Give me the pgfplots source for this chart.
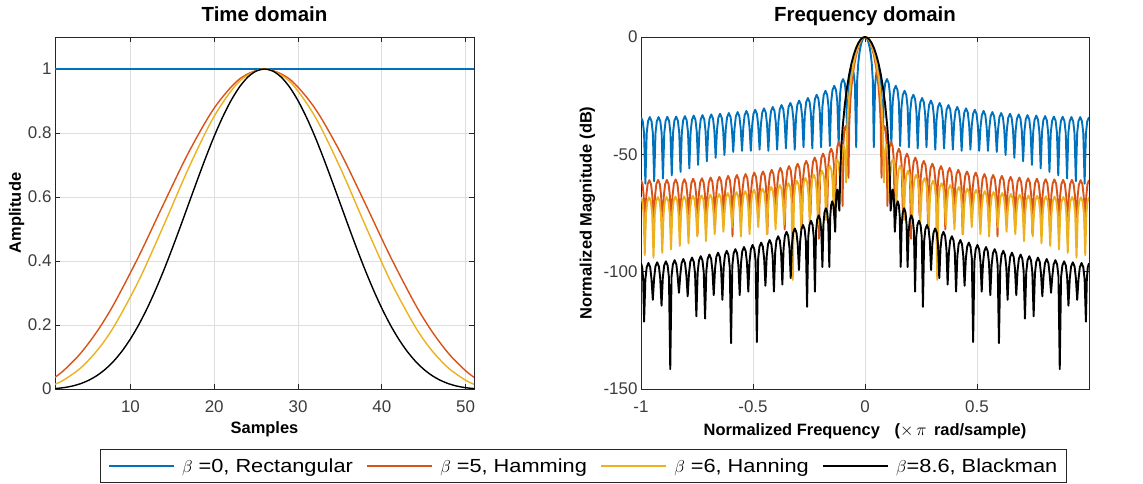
\documentclass[border=0pt]{standalone}
\usepackage{fontspec}
\setmainfont{Liberation Sans}
\newfontfamily\legfont{Liberation Sans}[FakeStretch=1.15]
\usepackage{pgfplots}
\usepackage{pgfplotstable}
\pgfplotsset{compat=1.18}
\definecolor{mblue}{RGB}{0,114,189}
\definecolor{morange}{RGB}{217,83,25}
\definecolor{myellow}{RGB}{237,177,32}
\definecolor{axgray}{RGB}{38,38,38}
\definecolor{gridgray}{RGB}{222,222,222}

% right half (0..1) of each spectrum; the left half is its mirror image
\pgfplotstableread{
f db
0 0
0.005 -0.23
0.01 -0.95
0.015 -2.2
0.02 -4.1
0.025 -6.9
0.03 -11.1
0.035 -18.5
0.0392 -47
0.0451 -20.4
0.0510 -15.3
0.0588 -13.5
0.0667 -15.3
0.0725 -20.4
0.0784 -46.5
0.0843 -24.8
0.0902 -19.7
0.0980 -17.9
0.1059 -19.7
0.1118 -24.8
0.1176 -46
0.1235 -27.7
0.1294 -22.6
0.1373 -20.8
0.1451 -22.6
0.1510 -27.7
0.1569 -46.5
0.1628 -29.8
0.1687 -24.7
0.1765 -22.9
0.1843 -24.7
0.1902 -29.8
0.1961 -47
0.2020 -31.5
0.2079 -26.4
0.2157 -24.6
0.2235 -26.4
0.2294 -31.5
0.2353 -47.5
0.2412 -32.9
0.2471 -27.8
0.2549 -26.0
0.2627 -27.8
0.2686 -32.9
0.2745 -47
0.2804 -34.0
0.2863 -28.9
0.2941 -27.1
0.3020 -28.9
0.3078 -34.0
0.3137 -48
0.3196 -35.0
0.3255 -29.9
0.3333 -28.1
0.3412 -29.9
0.3471 -35.0
0.3529 -47.5
0.3588 -35.9
0.3647 -30.8
0.3725 -29.0
0.3804 -30.8
0.3863 -35.9
0.3922 -48
0.3980 -36.7
0.4039 -31.6
0.4118 -29.8
0.4196 -31.6
0.4255 -36.7
0.4314 -48.5
0.4373 -37.3
0.4431 -32.2
0.4510 -30.4
0.4588 -32.2
0.4647 -37.3
0.4706 -48
0.4765 -37.9
0.4824 -32.8
0.4902 -31.0
0.4980 -32.8
0.5039 -37.9
0.5098 -48.5
0.5157 -38.4
0.5216 -33.3
0.5294 -31.5
0.5373 -33.3
0.5431 -38.4
0.5490 -48.5
0.5549 -38.9
0.5608 -33.8
0.5686 -32.0
0.5765 -33.8
0.5824 -38.9
0.5882 -49
0.5941 -39.3
0.6000 -34.2
0.6078 -32.4
0.6157 -34.2
0.6216 -39.3
0.6275 -50.3
0.6333 -39.6
0.6392 -34.5
0.6471 -32.7
0.6549 -34.5
0.6608 -39.6
0.6667 -51.5
0.6725 -39.9
0.6784 -34.8
0.6863 -33.0
0.6941 -34.8
0.7000 -39.9
0.7059 -53
0.7118 -40.2
0.7176 -35.1
0.7255 -33.3
0.7333 -35.1
0.7392 -40.2
0.7451 -54.5
0.7510 -40.4
0.7569 -35.3
0.7647 -33.5
0.7725 -35.3
0.7784 -40.4
0.7843 -56
0.7902 -40.6
0.7961 -35.5
0.8039 -33.7
0.8118 -35.5
0.8176 -40.6
0.8235 -57.5
0.8294 -40.8
0.8353 -35.7
0.8431 -33.9
0.8510 -35.7
0.8569 -40.8
0.8627 -59
0.8686 -40.9
0.8745 -35.8
0.8824 -34.0
0.8902 -35.8
0.8961 -40.9
0.9020 -60.3
0.9078 -41.0
0.9137 -35.9
0.9216 -34.1
0.9294 -35.9
0.9353 -41.0
0.9412 -61.5
0.9471 -41.0
0.9529 -35.9
0.9608 -34.1
0.9686 -35.9
0.9745 -41.0
0.9804 -62.5
0.9863 -41.0
0.9922 -35.9
1.0 -34.2
}\tblue

\pgfplotstableread{
f db
0 0
0.01 -0.45
0.02 -1.82
0.03 -4.21
0.04 -7.8
0.05 -13.0
0.06 -20.8
0.065 -26.7
0.07 -36.5
0.0737 -60
0.0777 -44.9
0.0817 -39.8
0.0870 -38.0
0.0923 -39.8
0.0962 -44.9
0.1002 -72
0.1052 -51.7
0.1101 -46.6
0.1167 -44.8
0.1233 -46.6
0.1282 -51.7
0.1332 -78
0.1385 -54.5
0.1439 -49.4
0.1510 -47.6
0.1581 -49.4
0.1635 -54.5
0.1688 -74
0.1744 -56.6
0.1799 -51.5
0.1873 -49.7
0.1947 -51.5
0.2002 -56.6
0.2058 -86
0.2114 -58.3
0.2171 -53.2
0.2246 -51.4
0.2321 -53.2
0.2378 -58.3
0.2434 -76
0.2491 -59.7
0.2548 -54.6
0.2625 -52.8
0.2701 -54.6
0.2758 -59.7
0.2815 -80
0.2873 -60.9
0.2930 -55.8
0.3007 -54.0
0.3084 -55.8
0.3141 -60.9
0.3199 -74
0.3257 -61.9
0.3315 -56.8
0.3392 -55.0
0.3468 -56.8
0.3526 -61.9
0.3584 -82
0.3642 -62.7
0.3700 -57.6
0.3778 -55.8
0.3855 -57.6
0.3913 -62.7
0.3971 -77
0.4029 -63.5
0.4087 -58.4
0.4165 -56.6
0.4243 -58.4
0.4301 -63.5
0.4359 -84
0.4417 -64.2
0.4475 -59.1
0.4553 -57.3
0.4631 -59.1
0.4689 -64.2
0.4747 -76
0.4805 -64.7
0.4864 -59.6
0.4942 -57.8
0.5019 -59.6
0.5078 -64.7
0.5136 -80
0.5194 -65.3
0.5253 -60.2
0.5331 -58.4
0.5409 -60.2
0.5468 -65.3
0.5526 -78
0.5584 -65.7
0.5643 -60.6
0.5721 -58.8
0.5798 -60.6
0.5857 -65.7
0.5915 -85
0.5974 -66.1
0.6032 -61.0
0.6110 -59.2
0.6188 -61.0
0.6247 -66.1
0.6305 -77
0.6364 -66.5
0.6422 -61.4
0.6500 -59.6
0.6578 -61.4
0.6637 -66.5
0.6696 -81
0.6755 -66.8
0.6813 -61.7
0.6891 -59.9
0.6969 -61.7
0.7028 -66.8
0.7086 -79
0.7145 -67.1
0.7203 -62.0
0.7281 -60.2
0.7359 -62.0
0.7418 -67.1
0.7477 -84
0.7536 -67.3
0.7594 -62.2
0.7672 -60.4
0.7750 -62.2
0.7809 -67.3
0.7868 -78
0.7927 -67.5
0.7985 -62.4
0.8063 -60.6
0.8141 -62.4
0.8200 -67.5
0.8259 -82
0.8318 -67.6
0.8376 -62.5
0.8454 -60.7
0.8532 -62.5
0.8591 -67.6
0.8650 -80
0.8709 -67.8
0.8767 -62.7
0.8845 -60.9
0.8923 -62.7
0.8982 -67.8
0.9041 -86
0.9100 -67.8
0.9158 -62.7
0.9236 -60.9
0.9315 -62.7
0.9374 -67.8
0.9433 -80
0.9492 -67.9
0.9550 -62.8
0.9628 -61.0
0.9707 -62.8
0.9765 -67.9
0.9824 -83
0.9877 -67.9
0.9930 -62.8
1.0 -61.0
}\torange

\pgfplotstableread{
f db
0 0
0.01 -0.39
0.02 -1.57
0.03 -3.6
0.04 -6.59
0.05 -10.75
0.06 -16.47
0.07 -24.73
0.075 -30.7
0.08 -39.8
0.0845 -62
0.0881 -52.9
0.0917 -47.8
0.0965 -46.0
0.1013 -47.8
0.1049 -52.9
0.1085 -68
0.1132 -59.0
0.1178 -53.9
0.1240 -52.1
0.1302 -53.9
0.1349 -59.0
0.1395 -74
0.1446 -61.8
0.1498 -56.7
0.1567 -54.9
0.1635 -56.7
0.1687 -61.8
0.1738 -78
0.1792 -63.9
0.1846 -58.8
0.1919 -57.0
0.1991 -58.8
0.2045 -63.9
0.2099 -80
0.2155 -65.6
0.2210 -60.5
0.2284 -58.7
0.2358 -60.5
0.2414 -65.6
0.2469 -79
0.2526 -67.0
0.2582 -61.9
0.2658 -60.1
0.2733 -61.9
0.2789 -67.0
0.2846 -82
0.2903 -68.2
0.2960 -63.1
0.3036 -61.3
0.3112 -63.1
0.3168 -68.2
0.3225 -103.5
0.3282 -69.2
0.3340 -64.1
0.3417 -62.3
0.3493 -64.1
0.3551 -69.2
0.3608 -80
0.3666 -70.0
0.3724 -64.9
0.3801 -63.1
0.3878 -64.9
0.3935 -70.0
0.3993 -82
0.4051 -70.8
0.4109 -65.7
0.4186 -63.9
0.4263 -65.7
0.4320 -70.8
0.4378 -84
0.4436 -71.5
0.4494 -66.4
0.4572 -64.6
0.4649 -66.4
0.4707 -71.5
0.4765 -81
0.4823 -72.0
0.4881 -66.9
0.4959 -65.1
0.5037 -66.9
0.5095 -72.0
0.5153 -84
0.5211 -72.6
0.5269 -67.5
0.5347 -65.7
0.5425 -67.5
0.5483 -72.6
0.5541 -85
0.5599 -73.0
0.5658 -67.9
0.5736 -66.1
0.5813 -67.9
0.5872 -73.0
0.5930 -81
0.5988 -73.4
0.6047 -68.3
0.6125 -66.5
0.6202 -68.3
0.6261 -73.4
0.6319 -83
0.6377 -73.8
0.6436 -68.7
0.6514 -66.9
0.6592 -68.7
0.6651 -73.8
0.6709 -84
0.6768 -74.1
0.6826 -69.0
0.6904 -67.2
0.6982 -69.0
0.7041 -74.1
0.7099 -87
0.7157 -74.4
0.7216 -69.3
0.7294 -67.5
0.7372 -69.3
0.7431 -74.4
0.7489 -85
0.7547 -74.6
0.7606 -69.5
0.7684 -67.7
0.7762 -69.5
0.7821 -74.6
0.7879 -88
0.7938 -74.8
0.7996 -69.7
0.8074 -67.9
0.8152 -69.7
0.8211 -74.8
0.8269 -89
0.8328 -74.9
0.8386 -69.8
0.8464 -68.0
0.8542 -69.8
0.8601 -74.9
0.8660 -90.5
0.8719 -75.1
0.8777 -70.0
0.8856 -68.2
0.8934 -70.0
0.8992 -75.1
0.9051 -92
0.9110 -75.1
0.9168 -70.0
0.9247 -68.2
0.9325 -70.0
0.9383 -75.1
0.9442 -94
0.9501 -75.2
0.9559 -70.1
0.9638 -68.3
0.9716 -70.1
0.9774 -75.2
0.9833 -93
0.9883 -75.2
0.9933 -70.1
1.0 -68.3
}\tyellow

\pgfplotstableread{
f db
0 0
0.01 -0.29
0.02 -1.16
0.03 -2.62
0.04 -4.73
0.05 -7.54
0.06 -11.13
0.07 -15.66
0.08 -21.37
0.09 -28.7
0.1 -38.8
0.105 -45.8
0.11 -56.2
0.1143 -74
0.1171 -71.9
0.1199 -66.8
0.1237 -65.0
0.1274 -66.8
0.1302 -71.9
0.1330 -83
0.1369 -76.9
0.1409 -71.8
0.1462 -70.0
0.1514 -71.8
0.1554 -76.9
0.1593 -98
0.1639 -79.9
0.1685 -74.8
0.1747 -73.0
0.1809 -74.8
0.1855 -79.9
0.1901 -98
0.1951 -82.9
0.2001 -77.8
0.2068 -76.0
0.2135 -77.8
0.2185 -82.9
0.2235 -108.5
0.2288 -85.2
0.2340 -80.1
0.2411 -78.3
0.2481 -80.1
0.2533 -85.2
0.2586 -115
0.2640 -87.0
0.2695 -81.9
0.2767 -80.1
0.2839 -81.9
0.2894 -87.0
0.2948 -99.3
0.3003 -88.5
0.3058 -83.4
0.3132 -81.6
0.3206 -83.4
0.3261 -88.5
0.3316 -102.8
0.3372 -89.9
0.3428 -84.8
0.3503 -83.0
0.3577 -84.8
0.3633 -89.9
0.3689 -105.5
0.3746 -91.8
0.3802 -86.7
0.3878 -84.9
0.3953 -86.7
0.4009 -91.8
0.4066 -108.5
0.4123 -93.4
0.4180 -88.3
0.4256 -86.5
0.4331 -88.3
0.4388 -93.4
0.4445 -106
0.4502 -94.5
0.4560 -89.4
0.4636 -87.6
0.4712 -89.4
0.4770 -94.5
0.4827 -130
0.4884 -95.5
0.4942 -90.4
0.5019 -88.6
0.5095 -90.4
0.5153 -95.5
0.5210 -108.5
0.5268 -96.4
0.5325 -91.3
0.5402 -89.5
0.5479 -91.3
0.5536 -96.4
0.5594 -110
0.5652 -97.3
0.5710 -92.2
0.5787 -90.4
0.5864 -92.2
0.5922 -97.3
0.5980 -130.5
0.6038 -98.0
0.6096 -92.9
0.6173 -91.1
0.6250 -92.9
0.6308 -98.0
0.6366 -112
0.6424 -98.8
0.6482 -93.7
0.6560 -91.9
0.6637 -93.7
0.6695 -98.8
0.6753 -110
0.6811 -99.6
0.6869 -94.5
0.6947 -92.7
0.7024 -94.5
0.7082 -99.6
0.7140 -120
0.7198 -100.3
0.7256 -95.2
0.7334 -93.4
0.7412 -95.2
0.7470 -100.3
0.7528 -119
0.7586 -100.9
0.7644 -95.8
0.7722 -94.0
0.7800 -95.8
0.7858 -100.9
0.7916 -110.5
0.7974 -101.5
0.8033 -96.4
0.8111 -94.6
0.8188 -96.4
0.8247 -101.5
0.8305 -109
0.8363 -102.0
0.8422 -96.9
0.8500 -95.1
0.8577 -96.9
0.8636 -102.0
0.8694 -141.5
0.8752 -102.5
0.8811 -97.4
0.8889 -95.6
0.8966 -97.4
0.9025 -102.5
0.9083 -114.5
0.9142 -102.9
0.9200 -97.8
0.9278 -96.0
0.9356 -97.8
0.9415 -102.9
0.9473 -112
0.9531 -103.2
0.9590 -98.1
0.9668 -96.3
0.9745 -98.1
0.9804 -103.2
0.9862 -121.3
0.9903 -103.3
0.9945 -98.2
1.0 -96.4
}\tblack

\pgfplotsset{
  matlab/.style={
    scale only axis,
    axis line style={axgray, line width=0.8bp},
    tick style={axgray, line width=0.8bp},
    major tick length=5bp,
    grid=major,
    major grid style={gridgray, line width=0.7bp},
    tick label style={font=\fontsize{17}{17}\selectfont, color=axgray!90},
    xticklabel style={yshift=-8bp},
    /pgf/number format/assume math mode=true,
    title style={font=\bfseries\fontsize{20.5}{20.5}\selectfont},
    label style={font=\bfseries\fontsize{16.5}{16.5}\selectfont, color=black},
  },
  legend image code/.code={\draw[#1, line width=1.4bp] (0bp,0bp) -- (65bp,0bp);},
}

\begin{document}
\begin{tikzpicture}
\useasboundingbox (0,0) rectangle (1143bp,484bp);

% ---------------- Time domain ----------------
\begin{axis}[matlab,
  at={(55bp,95bp)}, anchor=south west,
  width=419bp, height=352bp,
  xmin=1, xmax=51, ymin=0, ymax=1.1,
  xtick={10,20,30,40,50},
  ytick={0,0.2,0.4,0.6,0.8,1},
  title={Time domain},
  title style={at={(axis description cs:0.5,1.0276)}, anchor=base},
  xlabel={Samples},
  xlabel style={at={(axis description cs:0.5,-0.1259)}, anchor=base},
  ylabel={Amplitude},
  ylabel style={at={(axis description cs:-0.0914,0.5)}, anchor=center},
]
\addplot[mblue, line width=2.2bp] coordinates {(1,1) (51,1)};
\addplot[morange, line width=1.4bp, smooth] coordinates {
(1,0.0367) (2,0.0570) (4,0.1099) (6,0.1792) (8,0.2641) (11,0.4149) (14,0.5806)
(17,0.7420) (20,0.8779) (23,0.9683) (26,1) (29,0.9683) (32,0.8779) (35,0.7420)
(38,0.5806) (41,0.4149) (44,0.2641) (46,0.1792) (48,0.1099) (50,0.0570) (51,0.0367)};
\addplot[myellow, line width=1.4bp, smooth] coordinates {
(1,0.0149) (2,0.0274) (4,0.0643) (6,0.1194) (8,0.1937) (11,0.3390) (14,0.5131)
(17,0.6936) (20,0.8525) (23,0.9612) (26,1) (29,0.9612) (32,0.8525) (35,0.6936)
(38,0.5131) (41,0.3390) (44,0.1937) (46,0.1194) (48,0.0643) (50,0.0274) (51,0.0149)};
\addplot[black, line width=1.4bp, smooth] coordinates {
(1,0.0013) (2,0.0041) (3,0.0088) (4,0.0162) (5,0.0270) (6,0.0419) (7,0.0617)
(8,0.0870) (9,0.1185) (10,0.1565) (11,0.2011) (12,0.2522) (13,0.3097) (14,0.3724)
(15,0.4398) (16,0.5102) (17,0.5823) (18,0.6541) (19,0.7241) (20,0.7901) (21,0.8494)
(22,0.9011) (23,0.9432) (24,0.9744) (25,0.9935) (26,1) (27,0.9935) (28,0.9744)
(29,0.9432) (30,0.9011) (31,0.8494) (32,0.7901) (33,0.7241) (34,0.6541) (35,0.5823)
(36,0.5102) (37,0.4398) (38,0.3724) (39,0.3097) (40,0.2522) (41,0.2011) (42,0.1565)
(43,0.1185) (44,0.0870) (45,0.0617) (46,0.0419) (47,0.0270) (48,0.0162) (49,0.0088)
(50,0.0041) (51,0.0013)};
\end{axis}

% ---------------- Frequency domain ----------------
\begin{axis}[matlab,
  at={(641bp,95bp)}, anchor=south west,
  width=448bp, height=352bp,
  xmin=-1, xmax=1, ymin=-150, ymax=0,
  xtick={-1,-0.5,0,0.5},
  ytick={-150,-100,-50,0},
  title={Frequency domain},
  title style={at={(axis description cs:0.5,1.0276)}, anchor=base},
  xlabel={Normalized Frequency\hspace{0.9em}(\mbox{$\times\,\pi$}\hspace{0.45em}rad/sample)},
  xlabel style={at={(axis description cs:0.5,-0.1307)}, anchor=base},
  ylabel={Normalized Magnitude (dB)},
  ylabel style={at={(axis description cs:-0.1194,0.5)}, anchor=center},
  legend columns=4,
  legend cell align=left,
  legend style={at={(axis description cs:-0.1283,-0.2188)}, anchor=center,
    draw=axgray, line width=0.7bp, fill=white,
    font=\legfont\fontsize{19}{19}\selectfont,
    inner xsep=8bp, inner ysep=7.5bp,
    nodes={inner sep=1.5bp},
    /tikz/every odd column/.append style={column sep=6bp},
    /tikz/every even column/.append style={column sep=12bp}},
  every axis plot/.append style={line width=1.9bp, line join=round},
]
\addplot[mblue] table[x=f, y=db] {\tblue};
\addlegendentry{$\beta$ =0, Rectangular}
\addplot[mblue, forget plot] table[x expr=-\thisrow{f}, y=db] {\tblue};
\addplot[morange] table[x=f, y=db] {\torange};
\addlegendentry{$\beta$ =5, Hamming}
\addplot[morange, forget plot] table[x expr=-\thisrow{f}, y=db] {\torange};
\addplot[myellow] table[x=f, y=db] {\tyellow};
\addlegendentry{$\beta$ =6, Hanning}
\addplot[myellow, forget plot] table[x expr=-\thisrow{f}, y=db] {\tyellow};
\addplot[black] table[x=f, y=db] {\tblack};
\addlegendentry{$\beta$=8.6, Blackman}
\addplot[black, forget plot] table[x expr=-\thisrow{f}, y=db] {\tblack};
\end{axis}
\end{tikzpicture}
\end{document}
